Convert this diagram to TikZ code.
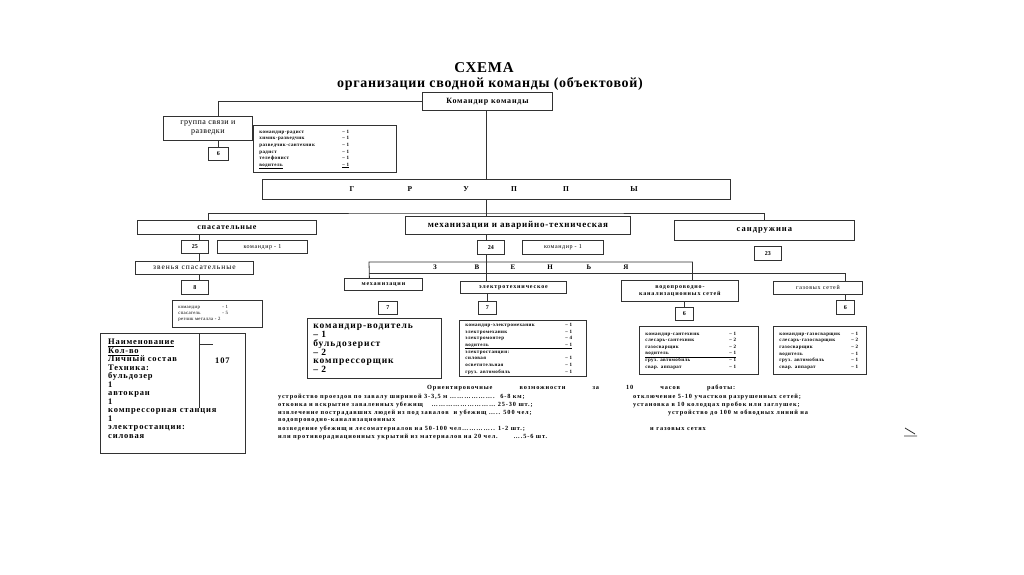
\documentclass[tikz,border=0pt]{standalone}
\usepackage{fontspec}
\setmainfont{Liberation Serif}
\usepackage{xcolor}
\usetikzlibrary{positioning,calc}
\newcommand{\lsp}[1]{\addfontfeature{LetterSpace=#1}}
\newcommand{\fsz}[2]{\fontsize{#1}{#2}\selectfont}
\definecolor{linec}{RGB}{50,50,50}

\begin{document}
\begin{tikzpicture}[
    x=1pt, y=-1pt,
    frame/.style={draw=linec, line width=0.8pt, anchor=north west, inner sep=0pt, align=center},
    num/.style={frame, font=\fsz{6}{7}\bfseries},
    lst/.style={frame, align=left, inner xsep=6pt, font=\fsz{5}{6.6}\bfseries\lsp{8}},
    link/.style={draw=linec, line width=0.8pt},
    bot/.style={anchor=west, inner sep=0pt, font=\fsz{6.3}{8}\bfseries\lsp{14}}
]
\useasboundingbox (0,0) rectangle (1024,574);
\fill[white] (0,0) rectangle (1024,574);

% title
\node[font=\fsz{15}{17}\bfseries\lsp{5}] (title) at (484,68) {СХЕМА};
\node[font=\fsz{14}{16}\bfseries\lsp{5}] (subtitle) at (490,84) {организации сводной команды (объектовой)};

% commander and communication group
\node[frame, minimum width=130pt, minimum height=18pt, font=\fsz{8}{9}\bfseries\lsp{10}] (cmd) at (422,92) {Командир команды};
\node[frame, minimum width=89pt, minimum height=24pt, font=\fsz{8}{9}\lsp{6}] (grp) at (163,116) {группа связи и\\разведки};
\node[num, minimum width=20pt, minimum height=13pt] (grpn) at (208,147) {6};
\node[lst, text width=131pt, minimum height=47pt] (grpl) at (253,125) {\begin{tabular}{@{}p{83pt}@{}l@{}}
командир-радист & – 1\\
химик-разведчик & – 1\\
разведчик-сантехник & – 1\\
радист & – 1\\
телефонист & – 1\\
\underline{водитель} & \underline{– 1}
\end{tabular}};

% groups bar
\node[frame, minimum width=468pt, minimum height=20pt] (grps) at (262,179) {};
\foreach \l/\x [count=\i] in {Г/352,Р/410,У/466,П/514,П/566,Ы/634}
    \node[font=\fsz{7.5}{9}\bfseries] (gl\i) at (\x,189) {\l};

\node[frame, minimum width=179pt, minimum height=14pt, font=\fsz{8}{9}\bfseries\lsp{10}] (spas) at (137,220) {спасательные};
\node[frame, minimum width=225pt, minimum height=18pt, font=\fsz{9}{10}\bfseries\lsp{9}] (mech) at (405,216) {механизации и аварийно-техническая};
\node[frame, minimum width=180pt, minimum height=20pt, font=\fsz{8.5}{9}\bfseries\lsp{12}] (sand) at (674,220) {сандружина};

% rescue group
\node[num, minimum width=27pt, minimum height=13pt] (spas25) at (181,240) {25};
\node[frame, minimum width=90pt, minimum height=13pt, font=\fsz{6}{7}\lsp{10}] (spascmd) at (217,240) {командир - 1};
\node[frame, minimum width=118pt, minimum height=13pt, font=\fsz{7.5}{8}\lsp{13}] (zv) at (135,261) {звенья спасательные};
\node[num, minimum width=27pt, minimum height=14pt] (zv8) at (181,280) {8};
\node[frame, align=left, inner xsep=6pt, text width=78pt, minimum height=27pt, font=\fsz{4.8}{6}\lsp{6}] (zvl) at (172,300) {\makebox[44pt][l]{командир}- 1\\ \makebox[44pt][l]{спасатель}- 5\\ резчик металла - 2};

% mechanisation group
\node[num, minimum width=27pt, minimum height=14pt] (mech24) at (477,240) {24};
\node[frame, minimum width=81pt, minimum height=14pt, font=\fsz{6}{7}\lsp{10}] (mechcmd) at (522,240) {командир - 1};
\node[num, minimum width=27pt, minimum height=14pt] (sand23) at (754,246) {23};

\foreach \l/\x [count=\i] in {З/435,В/477,Е/513,Н/550,Ь/589,Я/626}
    \node[font=\fsz{7}{8}\bfseries] (zl\i) at (\x,267.5) {\l};

\node[frame, minimum width=78pt, minimum height=12pt, font=\fsz{6}{7}\bfseries\lsp{14}] (zm) at (344,278) {механизации};
\node[num, minimum width=19pt, minimum height=13pt] (zm7) at (378,301) {7};
\node[frame, align=left, inner xsep=6pt, text width=122pt, minimum height=60pt, font=\fsz{9.5}{8.8}\bfseries\lsp{10}] (zml) at (307,318) {командир-водитель\\– 1\\бульдозерист\\– 2\\компрессорщик\\– 2};

\node[frame, minimum width=106pt, minimum height=12pt, font=\fsz{6}{7}\bfseries\lsp{14}] (ze) at (460,281) {электротехническое};
\node[num, minimum width=18pt, minimum height=13pt] (ze7) at (478,301) {7};
\node[lst, text width=115pt, minimum height=56pt] (zel) at (459,320) {\begin{tabular}{@{}p{100pt}@{}l@{}}
командир-электромеханик & – 1\\
электромеханик & – 1\\
электромонтер & – 4\\
водитель & – 1\\ \hline
электростанции: & \\
силовая & – 1\\
осветительная & – 1\\
груз. автомобиль & – 1
\end{tabular}};

\node[frame, minimum width=117pt, minimum height=21pt, font=\fsz{6}{7.5}\bfseries\lsp{14}] (zw) at (621,280) {водопроводно-\\канализационных сетей};
\node[num, minimum width=18pt, minimum height=13pt] (zw6) at (675,307) {6};
\node[lst, text width=107pt, minimum height=48pt] (zwl) at (639,326) {\begin{tabular}{@{}p{84pt}@{}l@{}}
командир-сантехник & – 1\\
слесарь-сантехник & – 2\\
газосварщик & – 2\\
водитель & – 1\\ \hline
груз. автомобиль & – 1\\
свар. аппарат & – 1
\end{tabular}};

\node[frame, minimum width=89pt, minimum height=13pt, font=\fsz{6}{7}\lsp{12}] (zg) at (773,281) {газовых сетей};
\node[num, minimum width=18pt, minimum height=14pt] (zg6) at (836,300) {6};
\node[lst, text width=81pt, minimum height=48pt] (zgl) at (773,326) {\begin{tabular}{@{}p{72pt}@{}l@{}}
командир-газосварщик & – 1\\
слесарь-газосварщик & – 2\\
газосварщик & – 2\\
водитель & – 1\\
груз. автомобиль & – 1\\
свар. аппарат & – 1
\end{tabular}};

% connectors
\coordinate (bus) at (486,213);
\coordinate (spx) at (199,240);
\coordinate (zvt) at (369,262);
\coordinate (zvb) at (369,273);
\path[link] (cmd.west) -| ([xshift=10pt]grp.north);
\path[link] (grpn.north) -- (grpn.north |- grp.south);
\path[link] (cmd.south -| bus) -- (grps.north -| bus);
\path[link] (grps.south -| bus) -- (mech.north -| bus);
\path[link] ([xshift=-18.5pt]spas.north) |- (bus) -| (sand.north);
\path[link] (spas.south -| spx) -- (spas25.north -| spx);
\path[link] (spas25.south -| spx) -- (zv.north -| spx);
\path[link] (zv.south -| spx) -- (zv8.north -| spx);
\path[link] (mech.south -| bus) -- (mech24.north -| bus);
\path[link] (mech24.south -| bus) -- (ze.north -| bus);
\path[link] ([xshift=-14pt]zm.north) -- (zvt) -| ([xshift=12.5pt]zw.north);
\path[link] (zvb) -| ([xshift=27.5pt]zg.north);
\path[link] (ze7.north) -- (ze7.north |- ze.south);
\path[link] (zw6.north) -- (zw6.north |- zw.south);
\path[link] (zg6.north) -- (zg6.north |- zg.south);

% summary table
\node[frame, minimum width=145pt, minimum height=120pt] (tbl) at (100,333) {};
\node[anchor=north west, inner sep=0pt, align=left, font=\fsz{8.5}{8.5}\bfseries\lsp{10}] (tbltx) at ([xshift=8pt,yshift=-6pt]tbl.north west) {\underline{Наименование}\\ \underline{Кол-во}\\ Личный состав\\ Техника:\\ бульдозер\\ 1\\ автокран\\ 1\\ компрессорная станция\\ 1\\ электростанции:\\ силовая};
\node[anchor=west, inner sep=0pt, font=\fsz{8.5}{8.5}\bfseries\lsp{10}] (tbl107) at (215,361) {107};
\path[link] ([xshift=99pt]tbl.north west) -- ++(0,75);
\path[link] ([xshift=99pt,yshift=-11pt]tbl.north west) -- ++(14,0);

% capabilities
\node[bot, text width=308pt, align=left] (ob0) at (427,388) {Ориентировочные\hfill возможности\hfill за\hfill 10\hfill часов\hfill работы:};
\node[bot] (ol1) at (278,397) {устройство проездов по завалу шириной 3-3,5 м ………………. \ 6-8 км;};
\node[bot] (ol2) at (278,405) {отконка и вскрытие заваленных убежищ \quad ……………………… 25-30 шт.;};
\node[bot] (ol3) at (278,413) {извлечение пострадавших людей из под завалов \ и убежищ ….. 500 чел;};
\node[bot] (ol4) at (278,421) {водопроводно-канализационных};
\node[bot] (ol5) at (278,429) {возведение убежищ и лесоматериалов на 50-100 чел………….. 1-2 шт.;};
\node[bot] (ol6) at (278,437) {или противорадиационных укрытий из материалов на 20 чел. \qquad ….5-6 шт.};
\node[bot] (or1) at (633,397) {отключение 5-10 участков разрушенных сетей;};
\node[bot] (or2) at (633,405) {установка в 10 колодцах пробок или заглушек;};
\node[bot] (or3) at (668,413) {устройство до 100 м обводных линий на};
\node[bot] (or5) at (650,429) {и газовых сетях};

\path[link] (905,428) -- (915,434) (904,436) -- (917,436);
\end{tikzpicture}
\end{document}
